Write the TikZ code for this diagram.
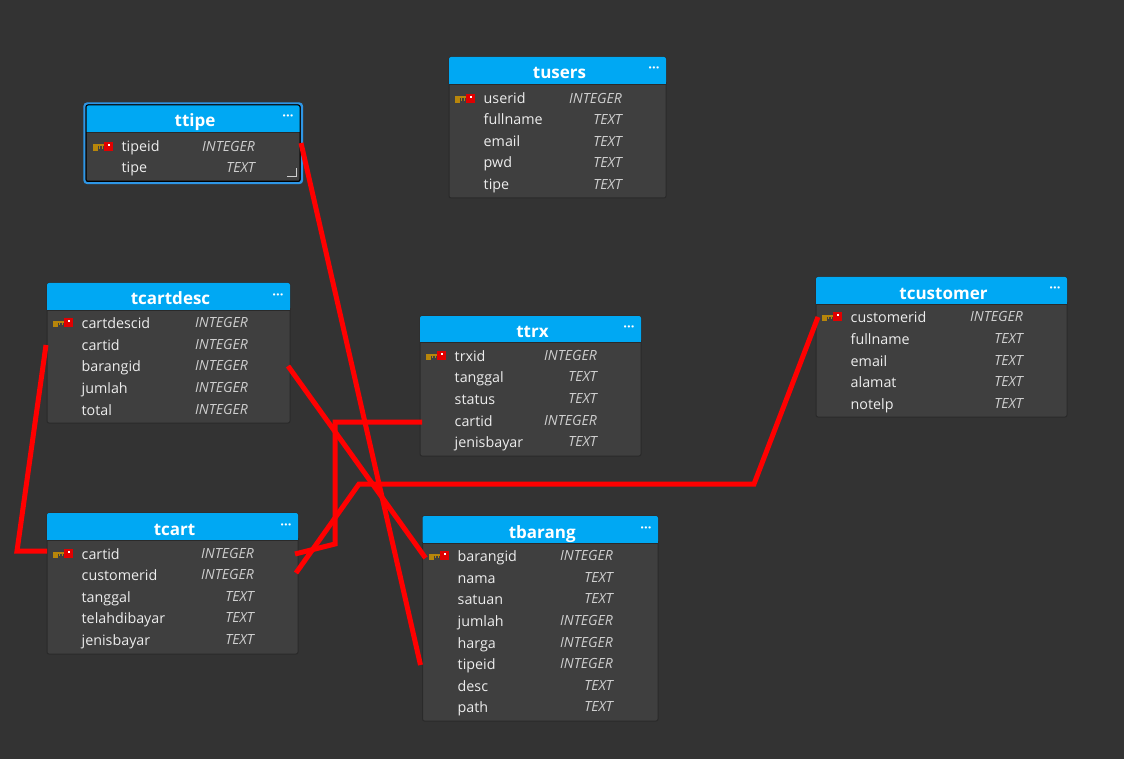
\documentclass[tikz,border=0pt]{standalone}
\usepackage{fontspec}
\setmainfont{Open Sans}
\definecolor{bgc}{HTML}{333333}
\definecolor{bodyc}{HTML}{3F3F3F}
\definecolor{edgec}{HTML}{2A2A2A}
\definecolor{headc}{HTML}{00A8F3}
\definecolor{namec}{HTML}{EDEDED}
\definecolor{typec}{HTML}{CFCFCF}
\definecolor{selc}{HTML}{2E96E6}
\definecolor{goldc}{HTML}{B8860B}
\definecolor{redc}{HTML}{E00000}
\tikzset{
  x=1pt,y=-1pt,
  tablebody/.style={fill=bodyc,draw=edgec,line width=1pt,rounded corners=2pt},
  tablehead/.style={fill=headc,rounded corners=2pt},
  titletext/.style={anchor=base,inner sep=0pt,text=white,font=\fontsize{17}{19}\selectfont\bfseries},
  dotstext/.style={anchor=base,inner sep=0pt,text=white,font=\fontsize{13}{14}\selectfont\bfseries},
  colname/.style={anchor=base west,inner sep=0pt,text=namec,font=\fontsize{14.3}{16}\selectfont},
  coltype/.style={anchor=base east,inner sep=0pt,text=typec,font=\fontsize{14}{16}\selectfont\itshape},
  rowband/.style={inner sep=0pt,outer sep=0pt,minimum height=1pt},
  link/.style={draw=red,line width=5pt,line join=miter,miter limit=3},
}
% name, x1, y1, x2, y2, headbottom, name x, type right, rows
\newcommand{\dbtable}[9]{%
  \path[tablebody] (#2,#3) rectangle (#4,#5);
  \path[tablehead] (#2,#3) rectangle (#4,#6);
  \path[fill=headc] (#2,#6-4) rectangle (#4,#6);
  \draw[edgec,line width=0.8pt] (#2,#6+.4) -- (#4,#6+.4);
  \node[titletext] (#1-title) at ({(#2+#4)/2+2},#6-5) {#1};
  \node[dotstext] (#1-dots) at (#4-12,#6-11) {···};
  \foreach \nm/\ty/\yy [count=\ii] in {#9} {
    \node[rowband,minimum width={(#4)-(#2)},anchor=center] (#1-\nm) at ({(#2+#4)/2},\yy) {};
    \node[colname] (#1-\nm-n) at (#7-.5,\yy+5) {\nm};
    \node[coltype] (#1-\nm-t) at (#8,\yy+4.5) {\ty};
    \ifnum\ii=1
      \keyicon{#7-29}{\yy}
    \fi
  }
}
\newcommand{\keyicon}[2]{%
  \fill[goldc] (#1,#2-2.5) rectangle (#1+4.5,#2+4);
  \fill[goldc] (#1,#2-2.5) rectangle (#1+12,#2-.5);
  \fill[goldc] (#1+5.5,#2-.5) rectangle (#1+6.5,#2+2);
  \fill[goldc] (#1+8.5,#2-.5) rectangle (#1+9.5,#2+2);
  \fill[redc] (#1+11,#2-5) rectangle (#1+20,#2+4);
  \fill[white] (#1+15,#2-3) rectangle (#1+17,#2-.8);
}
\begin{document}
\begin{tikzpicture}
\useasboundingbox[fill=bgc] (0,0) rectangle (1124,759);

\dbtable{tusers}{449}{57}{666}{198}{84}{484}{622}{userid/INTEGER/99,fullname/TEXT/120,email/TEXT/142,pwd/TEXT/163,tipe/TEXT/185}

\draw[selc,line width=2.4pt,rounded corners=3pt] (84.5,103.5) rectangle (302,183);
\dbtable{ttipe}{86}{105}{300}{181}{132}{122}{255}{tipeid/INTEGER/147,tipe/TEXT/168}
\draw[black,line width=1pt,rounded corners=2pt] (86,105) rectangle (300,181.5);
\draw[typec,line width=1pt] (287,177) -- (296.5,177) -- (296.5,168);

\dbtable{tcartdesc}{47}{283}{290}{423}{310}{82}{248}{cartdescid/INTEGER/323,cartid/INTEGER/345,barangid/INTEGER/366,jumlah/INTEGER/388,total/INTEGER/410}

\dbtable{ttrx}{420}{316}{641}{456}{342}{455}{597}{trxid/INTEGER/356,tanggal/TEXT/377,status/TEXT/399,cartid/INTEGER/421,jenisbayar/TEXT/442}

\dbtable{tcustomer}{816}{277}{1067}{417}{304}{851}{1023}{customerid/INTEGER/317,fullname/TEXT/339,email/TEXT/361,alamat/TEXT/382,notelp/TEXT/404}

\dbtable{tcart}{47}{513}{298}{654}{540}{82}{254}{cartid/INTEGER/554,customerid/INTEGER/575,tanggal/TEXT/597,telahdibayar/TEXT/618,jenisbayar/TEXT/640}

\dbtable{tbarang}{422.5}{516}{658}{721}{543}{458}{613}{barangid/INTEGER/556,nama/TEXT/578,satuan/TEXT/599,jumlah/INTEGER/621,harga/INTEGER/643,tipeid/INTEGER/664,desc/TEXT/686,path/TEXT/707}

\coordinate (bendA) at (17,551);
\coordinate (bendB) at (335,422);
\coordinate (bendC) at (335,544);
\coordinate (bendD) at (754,484);
\coordinate (bendE) at (359,484);

\draw[link] ([shift={(1,-4)}]ttipe-tipeid.east) -- ([shift={(-2,1)}]tbarang-tipeid.west);
\draw[link] ([xshift=-1pt]tcartdesc-cartid.west) -- (bendA) -- ([shift={(0,-3)}]tcart-cartid.west);
\draw[link] ([xshift=-2pt]tcartdesc-barangid.east) -- ([shift={(3,2)}]tbarang-barangid.west);
\draw[link] ([shift={(2,1)}]ttrx-cartid.west) -- (bendB) -- (bendC) -- ([xshift=-3pt]tcart-cartid.east);
\draw[link] ([xshift=2pt]tcustomer-customerid.west) -- (bendD) -- (bendE) -- ([shift={(-2,-2)}]tcart-customerid.east);
\end{tikzpicture}
\end{document}
